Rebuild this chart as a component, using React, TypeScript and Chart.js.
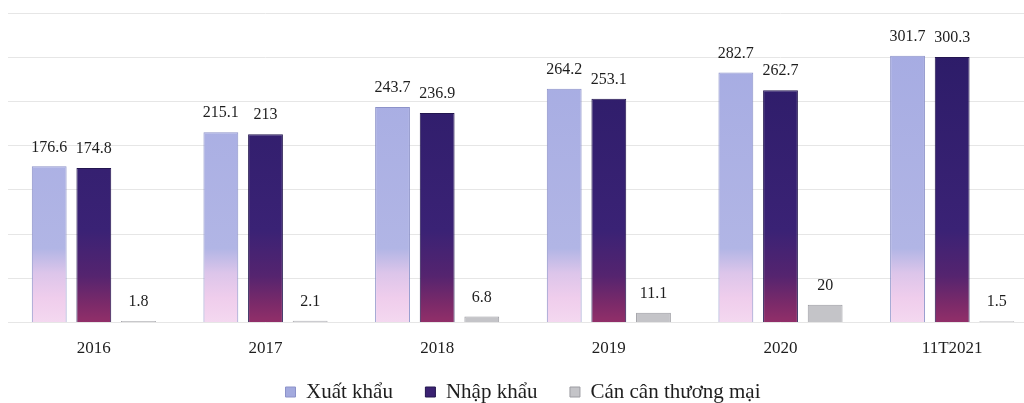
import React, { useEffect, useRef } from "react";
import { Chart, registerables } from "chart.js";

Chart.register(...registerables);

// ---- data ----
const categories = ["2016", "2017", "2018", "2019", "2020", "11T2021"];
const seriesLabels = ["Xuất khẩu", "Nhập khẩu", "Cán cân thương mại"];
const exportValues = [176.6, 215.1, 243.7, 264.2, 282.7, 301.7];
const importValues = [174.8, 213, 236.9, 253.1, 262.7, 300.3];
const balanceValues = [1.8, 2.1, 6.8, 11.1, 20, 1.5];
const yMin = 0;
const yMax = 350;
const yStep = 50;

// ---- style ----
const FONT = "'Liberation Serif', 'Times New Roman', serif";
const TEXT = "#1e1e1e";
const legendColors = ["#a3aade", "#3b2272", "#c4c4c8"];
const borderColors = ["#8c92c9", "#23164f", "#9c9ca2"];
// gradient stops: fraction of plot height measured from the bottom
const exportStops: [number, string][] = [
  [0, "#f4d8f0"],
  [0.08, "#efcdec"],
  [0.16, "#dcc5ea"],
  [0.24, "#b1b5e5"],
  [1, "#a4aae2"],
];
const importStops: [number, string][] = [
  [0, "#922f69"],
  [0.06, "#7b2a69"],
  [0.15, "#55246f"],
  [0.3, "#3a2275"],
  [1, "#2a1b66"],
];

function gradientFor(stops: [number, string][], fallback: string) {
  return (c: any) => {
    const chart = c.chart;
    const area = chart.chartArea;
    if (!area) return fallback;
    const g = chart.ctx.createLinearGradient(0, area.bottom, 0, area.top);
    stops.forEach(([o, col]) => g.addColorStop(o, col));
    return g;
  };
}

const valueLabels = {
  id: "valueLabels",
  afterDatasetsDraw(chart: any) {
    const { ctx } = chart;
    ctx.save();
    ctx.font = `16px ${FONT}`;
    ctx.fillStyle = TEXT;
    ctx.textAlign = "center";
    ctx.textBaseline = "middle";
    chart.data.datasets.forEach((ds: any, i: number) => {
      const meta = chart.getDatasetMeta(i);
      meta.data.forEach((el: any, j: number) => {
        ctx.fillText(String(ds.data[j]), el.x, el.y - 19);
      });
    });
    ctx.restore();
  },
};

// nudge the legend row up so it sits where the reference has it
const legendShift = {
  id: "legendShift",
  afterLayout(chart: any) {
    const lg = chart.legend;
    if (!lg) return;
    const d = 8.5;
    lg.top -= d;
    lg.bottom -= d;
    if (lg.legendHitBoxes) lg.legendHitBoxes.forEach((h: any) => (h.top -= d));
  },
};

export default function App() {
  const ref = useRef<HTMLCanvasElement | null>(null);

  useEffect(() => {
    if (!ref.current) return;
    const chart = new Chart(ref.current, {
      type: "bar",
      data: {
        labels: categories,
        datasets: [
          {
            label: seriesLabels[0],
            data: exportValues,
            backgroundColor: gradientFor(exportStops, legendColors[0]),
            borderColor: borderColors[0],
            borderWidth: 1,
          },
          {
            label: seriesLabels[1],
            data: importValues,
            backgroundColor: gradientFor(importStops, legendColors[1]),
            borderColor: borderColors[1],
            borderWidth: 1,
          },
          {
            label: seriesLabels[2],
            data: balanceValues,
            backgroundColor: legendColors[2],
            borderColor: borderColors[2],
            borderWidth: 1,
          },
        ],
      },
      options: {
        responsive: false,
        animation: false,
        devicePixelRatio: 1,
        layout: { padding: { left: 8, right: 2, top: 13, bottom: -18 } },
        datasets: {
          bar: { barPercentage: 0.78, categoryPercentage: 0.78 },
        },
        scales: {
          x: {
            grid: { display: false, drawTicks: false },
            border: { display: false },
            ticks: {
              font: { family: FONT, size: 17 },
              color: TEXT,
              padding: 16,
              maxRotation: 0,
            },
            afterFit: (s: any) => {
              s.height = 35;
            },
          },
          y: {
            min: yMin,
            max: yMax,
            ticks: { stepSize: yStep, display: false },
            grid: { color: "#e6e6e6", lineWidth: 1, drawTicks: false },
            border: { display: false },
            afterFit: (s: any) => {
              s.width = 0;
            },
          },
        },
        plugins: {
          tooltip: { enabled: false },
          legend: {
            position: "bottom",
            labels: {
              boxWidth: 10,
              boxHeight: 10,
              padding: 32.5,
              color: TEXT,
              font: { family: FONT, size: 21 },
              generateLabels: (ch: any) =>
                ch.data.datasets.map((ds: any, i: number) => ({
                  text: ds.label,
                  fillStyle: legendColors[i],
                  strokeStyle: borderColors[i],
                  lineWidth: 1,
                  fontColor: TEXT,
                  hidden: false,
                  datasetIndex: i,
                })),
            },
          },
        },
      },
      plugins: [valueLabels, legendShift],
    } as any);
    return () => chart.destroy();
  }, []);

  return (
    <div
      style={{
        position: "fixed",
        left: 0,
        top: 0,
        width: 1024,
        height: 403,
        overflow: "hidden",
        background: "#ffffff",
      }}
    >
      <canvas ref={ref} width={1040} height={403} style={{ display: "block" }} />
    </div>
  );
}
